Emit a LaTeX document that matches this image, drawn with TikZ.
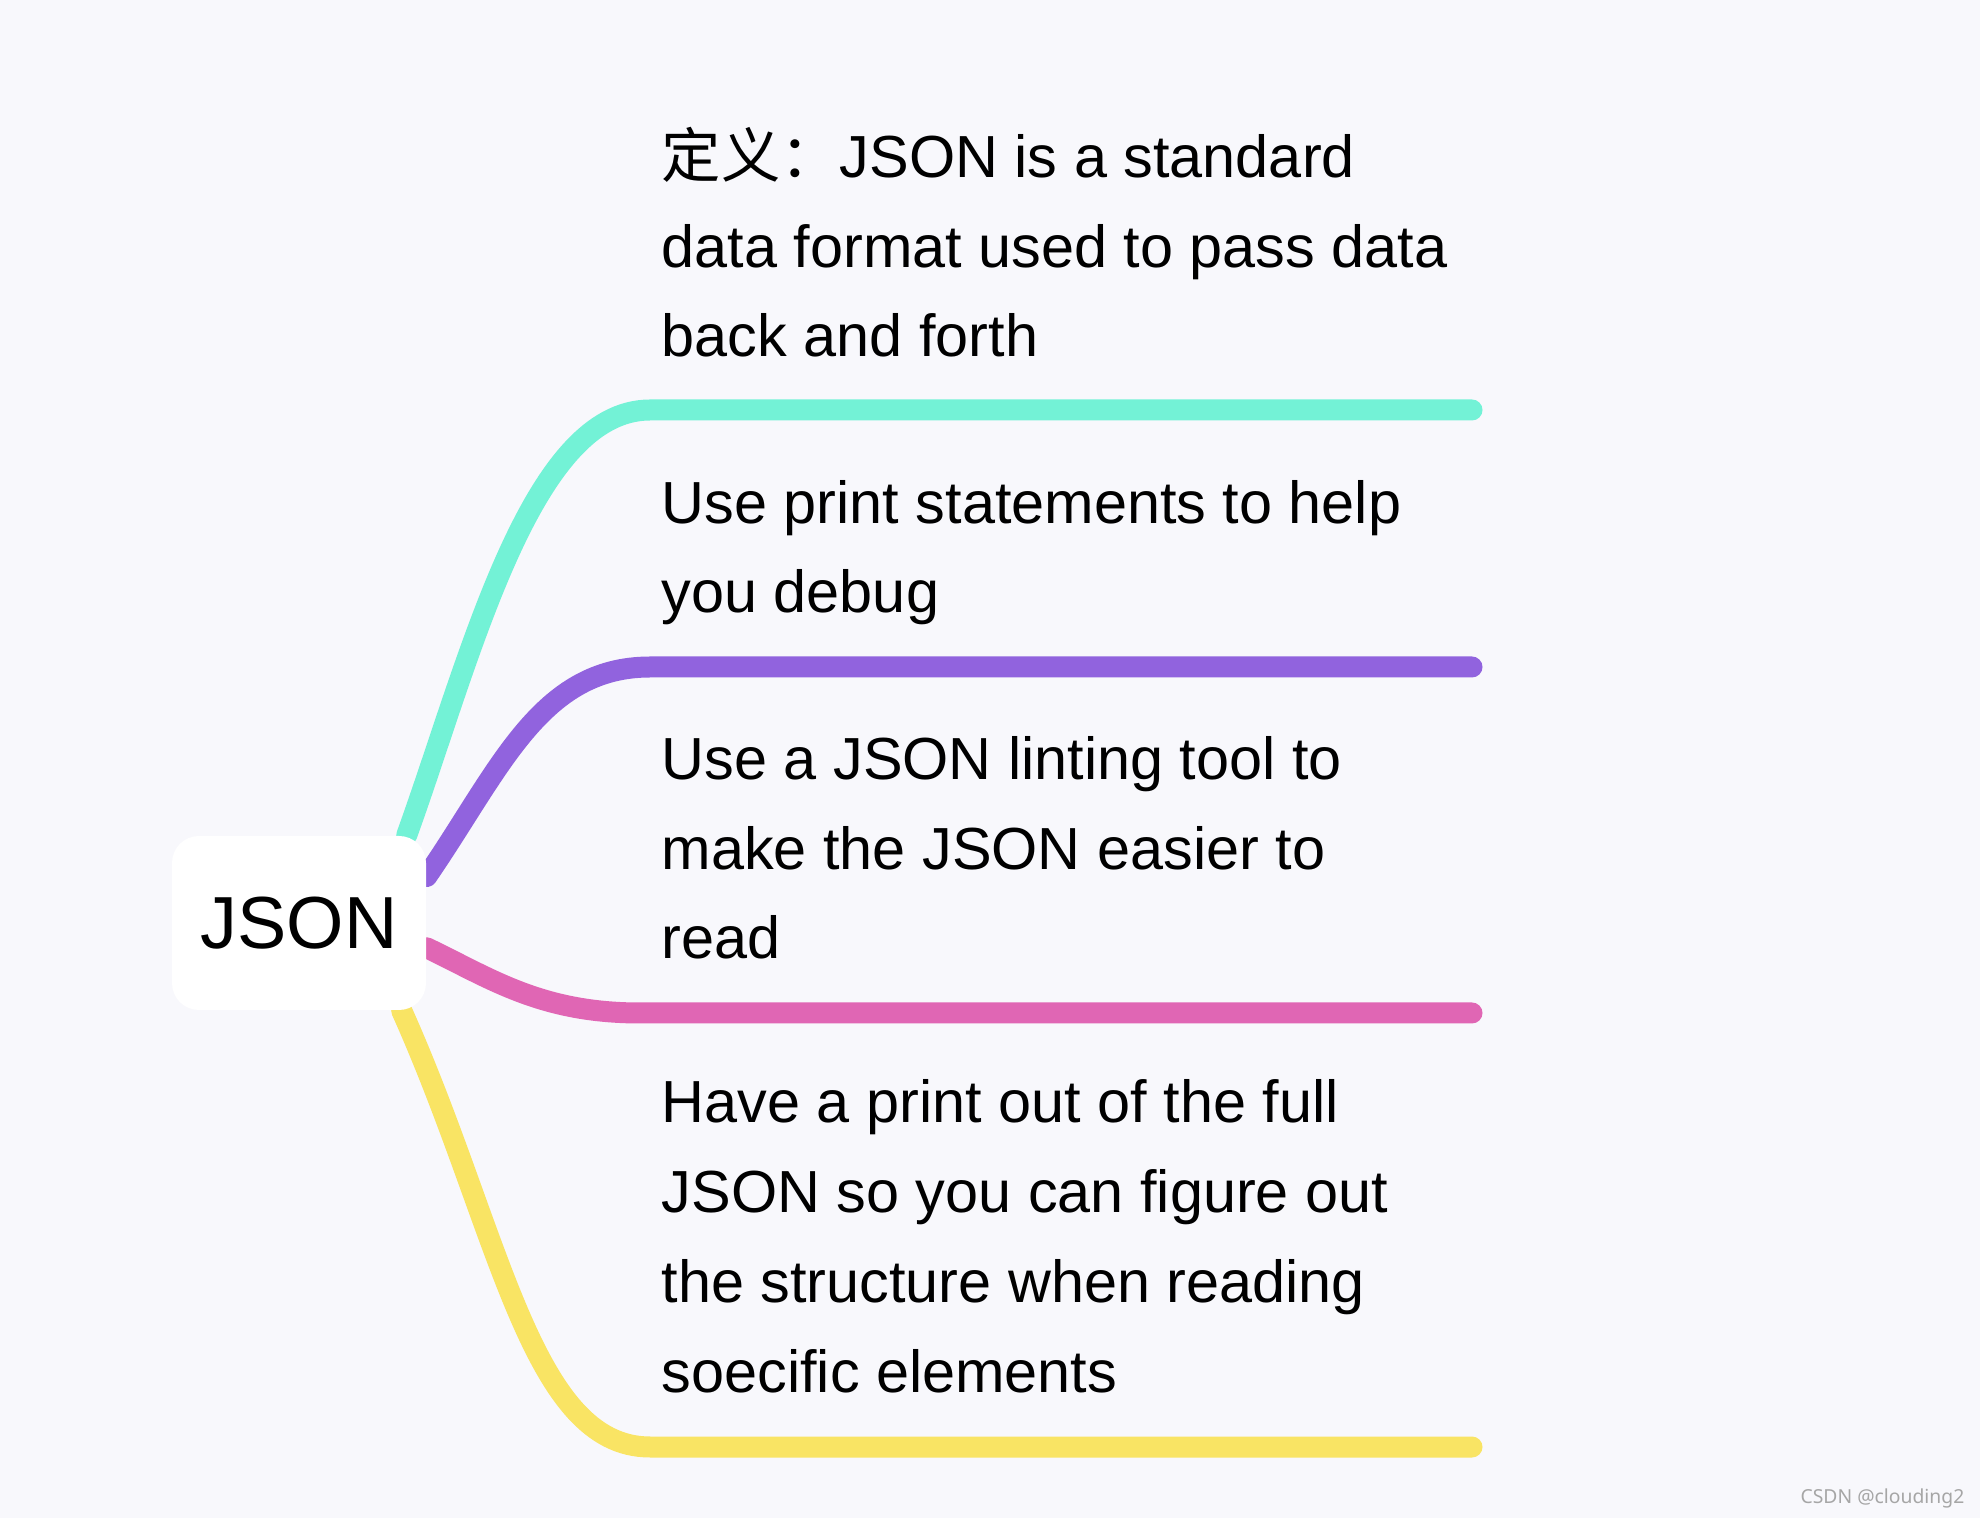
\documentclass[tikz,border=0pt]{standalone}
\usepackage{fontspec}
\setmainfont{Liberation Sans}
\newfontfamily\cjk{Noto Sans CJK SC}
\newfontfamily\marksans{Noto Sans}
\usepackage{tikz}
\usetikzlibrary{positioning}
\definecolor{pageBg}{RGB}{248,248,252}
\definecolor{brTeal}{RGB}{115,242,214}
\definecolor{brPurple}{RGB}{145,99,222}
\definecolor{brPink}{RGB}{224,102,180}
\definecolor{brYellow}{RGB}{249,228,100}
\pgfdeclarelayer{bg}
\pgfsetlayers{bg,main}

\begin{document}
\begin{tikzpicture}[
  branch/.style={line width=0.21cm, line cap=round},
  topic/.style={anchor=base west, inner sep=0pt, align=left, font=\fontsize{16.9}{25.6}\selectfont},
]
  \begin{pgfonlayer}{bg}
    \fill[pageBg] (0,0) rectangle (19.8,15.18);
  \end{pgfonlayer}
  % central topic
  \node[fill=white, rounded corners=0.27cm, minimum width=2.54cm, minimum height=1.74cm, inner sep=0pt, font=\fontsize{21}{25}\selectfont] (json) at (2.99,5.95) {JSON};
  % branch ends
  \coordinate (e1) at (14.72,11.08);
  \coordinate (e2) at (14.72,8.51);
  \coordinate (e3) at (14.72,5.05);
  \coordinate (e4) at (14.72,0.71);
  \begin{pgfonlayer}{bg}
    \draw[branch, brTeal] ([xshift=-2mm]json.north east) .. controls (4.70,8.58) and (5.30,11.08) .. (6.50,11.08) -- (e1);
    \draw[branch, brPurple] (json.20) .. controls (5.00,7.48) and (5.40,8.51) .. (6.50,8.51) -- (e2);
    \draw[branch, brPink] (json.-11) .. controls (4.90,5.40) and (5.40,5.05) .. (6.40,5.05) -- (e3);
    \draw[branch, brYellow] ([xshift=-2.5mm]json.south east) .. controls (5.00,2.88) and (5.30,0.71) .. (6.50,0.71) -- (e4);
  \end{pgfonlayer}
  % topics
  \node[topic] (def) at (6.61,11.61) {{\cjk 定义：}JSON is a standard\\data format used to pass data\\back and forth};
  \node[topic] (debug) at (6.61,9.05) {Use print statements to help\\you debug};
  \node[topic] (lint) at (6.61,5.59) {Use a JSON linting tool to\\make the JSON easier to\\read};
  \node[topic] (full) at (6.61,1.26) {Have a print out of the full\\JSON so you can figure out\\the structure when reading\\soecific elements};
  % watermark
  \node[anchor=base east, inner sep=0pt, text=black!35, font=\marksans\fontsize{5.5}{6}\selectfont] (mark) at (19.65,0.15) {CSDN @clouding2};
\end{tikzpicture}
\end{document}
